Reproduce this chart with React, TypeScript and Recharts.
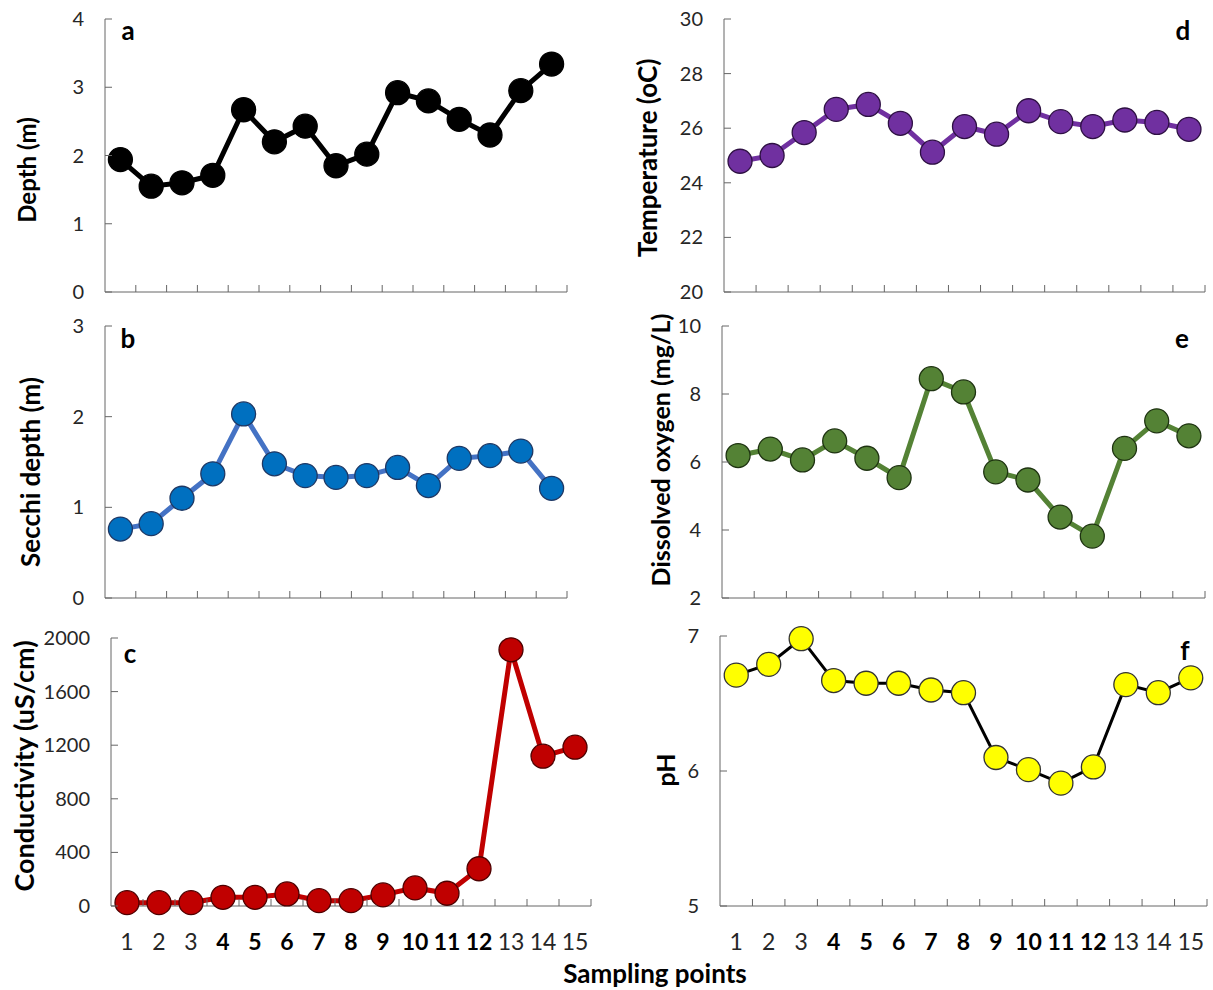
import React from "react";
import { Line, LineChart, XAxis, YAxis } from "recharts";

const samplingPoints = [1, 2, 3, 4, 5, 6, 7, 8, 9, 10, 11, 12, 13, 14, 15];
const boldPoints = [4, 5, 6, 7, 8, 9, 10, 11, 12];

const depth = [1.94, 1.55, 1.6, 1.71, 2.67, 2.2, 2.43, 1.85, 2.02, 2.92, 2.8, 2.53, 2.3, 2.95, 3.34];
const secchiDepth = [0.76, 0.82, 1.1, 1.37, 2.03, 1.48, 1.35, 1.33, 1.35, 1.44, 1.24, 1.54, 1.57, 1.62, 1.21];
const conductivity = [25, 25, 25, 65, 65, 90, 40, 40, 83, 135, 95, 278, 1912, 1118, 1185];
const temperature = [24.79, 25.0, 25.84, 26.69, 26.87, 26.18, 25.12, 26.06, 25.78, 26.64, 26.24, 26.06, 26.3, 26.21, 25.96];
const dissolvedOxygen = [6.19, 6.38, 6.06, 6.62, 6.11, 5.54, 8.45, 8.06, 5.71, 5.47, 4.38, 3.82, 6.4, 7.21, 6.77];
const ph = [6.71, 6.79, 6.98, 6.67, 6.65, 6.65, 6.6, 6.58, 6.1, 6.01, 5.91, 6.03, 6.64, 6.58, 6.69];

const depthTicks = [0, 1, 2, 3, 4];
const secchiTicks = [0, 1, 2, 3];
const conductivityTicks = [0, 400, 800, 1200, 1600, 2000];
const temperatureTicks = [20, 22, 24, 26, 28, 30];
const oxygenTicks = [2, 4, 6, 8, 10];
const phTicks = [5, 6, 7];

const FONT = "Lato, 'Open Sans', sans-serif";
const AXIS = "#666666";
const TEXT = "#262626";

interface PanelProps {
  values: number[];
  ticks: number[];
  letter: string;
  letterX: number;
  letterY: number;
  title: string;
  titleX: number;
  titleY: number;
  titleSize: number;
  left: number;
  top: number;
  right: number;
  bottom: number;
  lineColor: string;
  lineWidth: number;
  dotFill: string;
  dotStroke: string;
  showLabels?: boolean;
}

function Panel(p: PanelProps) {
  const yw = 80;
  const mTop = 16;
  const mRight = 14;
  const xh = p.showLabels ? 60 : 18;
  const plotW = p.right - p.left;
  const plotH = p.bottom - p.top;
  const step = plotW / samplingPoints.length;
  const data = samplingPoints.map((x, i) => ({ x, v: p.values[i] }));
  const last = samplingPoints.length - 1;

  // x ticks sit between categories and point up into the plot
  const renderXTick = (props: any) => {
    const { x, y, payload, index } = props;
    const v = payload.value;
    const bold = boldPoints.includes(v);
    return (
      <g>
        {index > 0 && <line x1={x - step / 2} x2={x - step / 2} y1={y} y2={y - 7} stroke={AXIS} />}
        {index === last && <line x1={x + step / 2} x2={x + step / 2} y1={y} y2={y - 7} stroke={AXIS} />}
        {p.showLabels && (
          <text
            x={x}
            y={y + 44}
            textAnchor="middle"
            fontSize={23}
            fontFamily={FONT}
            fontWeight={bold ? 700 : 400}
            fill={bold ? "#000" : TEXT}
          >
            {v}
          </text>
        )}
      </g>
    );
  };

  // y ticks point inward, labels well left of the axis
  const renderYTick = (props: any) => {
    const { x, y, payload } = props;
    return (
      <g>
        <line x1={x} x2={x + 7} y1={y} y2={y} stroke={AXIS} />
        <text x={x - 21} y={y + 7} textAnchor="end" fontSize={20} fontFamily={FONT} fill={TEXT}>
          {payload.value}
        </text>
      </g>
    );
  };

  return (
    <>
      <div style={{ position: "absolute", left: p.left - yw, top: p.top - mTop }}>
        <LineChart
          width={yw + plotW + mRight}
          height={mTop + plotH + xh}
          data={data}
          margin={{ top: mTop, right: mRight, left: 0, bottom: 0 }}
        >
          <XAxis
            dataKey="x"
            type="number"
            domain={[0.5, 15.5]}
            ticks={samplingPoints}
            interval={0}
            height={xh}
            tickSize={0}
            tickMargin={0}
            tickLine={false}
            axisLine={{ stroke: AXIS }}
            tick={renderXTick}
          />
          <YAxis
            type="number"
            domain={[p.ticks[0], p.ticks[p.ticks.length - 1]]}
            ticks={p.ticks}
            interval={0}
            width={yw}
            tickSize={0}
            tickMargin={0}
            tickLine={false}
            axisLine={{ stroke: AXIS }}
            tick={renderYTick}
          />
          <Line
            dataKey="v"
            type="linear"
            stroke={p.lineColor}
            strokeWidth={p.lineWidth}
            dot={{ r: 12, fill: p.dotFill, stroke: p.dotStroke, strokeWidth: 1.3 }}
            activeDot={false}
            isAnimationActive={false}
          />
        </LineChart>
      </div>
      <div
        style={{
          position: "absolute",
          left: p.titleX,
          top: p.titleY,
          transform: "translate(-50%, -50%) rotate(-90deg)",
          whiteSpace: "nowrap",
          fontFamily: FONT,
          fontWeight: 700,
          fontSize: p.titleSize,
          lineHeight: 1,
          color: "#000",
        }}
      >
        {p.title}
      </div>
      <div
        style={{
          position: "absolute",
          left: p.letterX,
          top: p.letterY,
          transform: "translate(-50%, -50%)",
          fontFamily: FONT,
          fontWeight: 700,
          fontSize: 26,
          lineHeight: 1,
          color: "#000",
        }}
      >
        {p.letter}
      </div>
    </>
  );
}

export default function App() {
  return (
    <div style={{ position: "absolute", left: 0, top: 0, width: 1213, height: 990, background: "#fff" }}>
      <Panel
        values={depth}
        ticks={depthTicks}
        letter="a"
        letterX={128}
        letterY={30}
        title="Depth (m)"
        titleX={27}
        titleY={170}
        titleSize={24}
        left={105}
        top={19}
        right={567}
        bottom={292}
        lineColor="#000000"
        lineWidth={5}
        dotFill="#000000"
        dotStroke="#000000"
      />
      <Panel
        values={secchiDepth}
        ticks={secchiTicks}
        letter="b"
        letterX={128}
        letterY={338}
        title="Secchi depth (m)"
        titleX={30}
        titleY={472}
        titleSize={26}
        left={105}
        top={326}
        right={567}
        bottom={598}
        lineColor="#4472C4"
        lineWidth={5}
        dotFill="#0070C0"
        dotStroke="#1F3864"
      />
      <Panel
        values={conductivity}
        ticks={conductivityTicks}
        letter="c"
        letterX={130}
        letterY={653}
        title="Conductivity (uS/cm)"
        titleX={23}
        titleY={766}
        titleSize={27}
        left={111}
        top={638}
        right={591}
        bottom={906}
        lineColor="#C00000"
        lineWidth={5}
        dotFill="#C00000"
        dotStroke="#4d0000"
        showLabels
      />
      <Panel
        values={temperature}
        ticks={temperatureTicks}
        letter="d"
        letterX={1183}
        letterY={30}
        title="Temperature (oC)"
        titleX={647}
        titleY={158}
        titleSize={26}
        left={724}
        top={19}
        right={1205}
        bottom={292}
        lineColor="#7030A0"
        lineWidth={5}
        dotFill="#7030A0"
        dotStroke="#2e1043"
      />
      <Panel
        values={dissolvedOxygen}
        ticks={oxygenTicks}
        letter="e"
        letterX={1182}
        letterY={338}
        title="Dissolved oxygen (mg/L)"
        titleX={660}
        titleY={450}
        titleSize={25}
        left={722}
        top={326}
        right={1205}
        bottom={598}
        lineColor="#548235"
        lineWidth={5}
        dotFill="#548235"
        dotStroke="#1e3311"
      />
      <Panel
        values={ph}
        ticks={phTicks}
        letter="f"
        letterX={1185}
        letterY={650}
        title="pH"
        titleX={665}
        titleY={770}
        titleSize={25}
        left={720}
        top={636}
        right={1207}
        bottom={906}
        lineColor="#000000"
        lineWidth={3}
        dotFill="#FFFF00"
        dotStroke="#333333"
        showLabels
      />
      <div
        style={{
          position: "absolute",
          left: 655,
          top: 973,
          transform: "translate(-50%, -50%)",
          whiteSpace: "nowrap",
          fontFamily: FONT,
          fontWeight: 700,
          fontSize: 26,
          lineHeight: 1,
          color: "#000",
        }}
      >
        Sampling points
      </div>
    </div>
  );
}
